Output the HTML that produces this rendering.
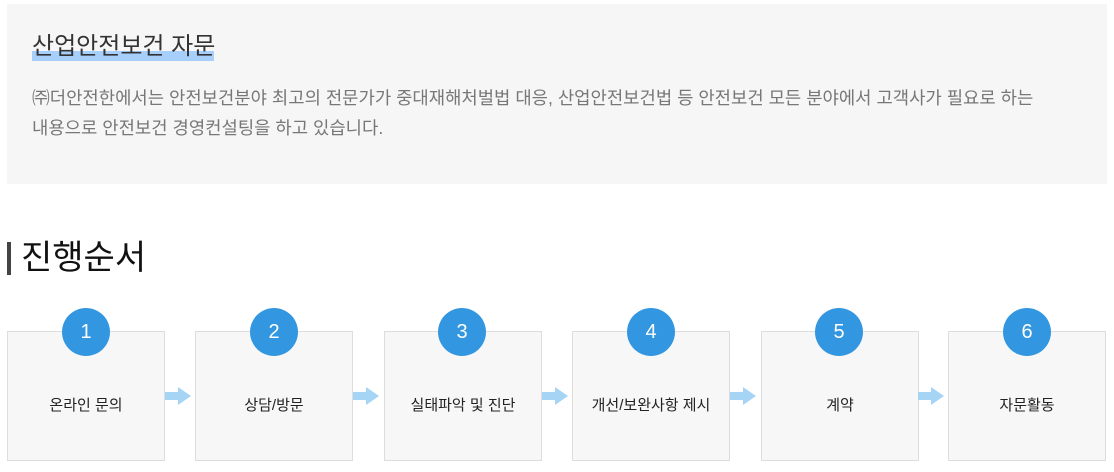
<!DOCTYPE html>
<html><head><meta charset="utf-8"><style>
body{margin:0;width:1114px;height:472px;background:#fff;position:relative;overflow:hidden;font-family:"Liberation Sans","Noto Sans CJK KR",sans-serif;}
.panel{position:absolute;left:7px;top:4px;width:1100px;height:180px;background:#f6f6f6;}
.title{position:absolute;left:32px;top:31px;font-size:24px;color:#333;line-height:32px;white-space:nowrap;}
.hl{position:absolute;left:32px;top:51px;width:182px;height:10px;background:#a6d0fb;}
.p{position:absolute;left:32px;top:83px;font-size:17.75px;color:#777;line-height:30px;white-space:nowrap;}
.bar{position:absolute;left:7px;top:242px;width:4px;height:33px;background:#444;}
.h2{position:absolute;left:21px;top:236px;font-size:34px;color:#111;line-height:44px;}
.box{position:absolute;top:331px;width:156px;height:128px;background:#f7f7f7;border:1px solid #ddd;}
.box span{position:absolute;left:0;right:0;top:62px;text-align:center;font-size:15px;color:#222;}
.c{position:absolute;top:308px;width:48px;height:48px;border-radius:50%;background:#3296e0;color:#fff;font-size:20px;text-align:center;line-height:48px;}
.ar{position:absolute;top:387px;width:26px;height:18px;}
</style></head><body>
<div class="panel"></div>
<div class="hl"></div>
<div class="title">산업안전보건 자문</div>
<div class="p">㈜더안전한에서는 안전보건분야 최고의 전문가가 중대재해처벌법 대응, 산업안전보건법 등 안전보건 모든 분야에서 고객사가 필요로 하는<br>내용으로 안전보건 경영컨설팅을 하고 있습니다.</div>
<div class="bar"></div>
<div class="h2">진행순서</div>

<div class="box" style="left:7px"><span>온라인 문의</span></div>
<div class="box" style="left:195px"><span>상담/방문</span></div>
<div class="box" style="left:384px"><span>실태파악 및 진단</span></div>
<div class="box" style="left:572px"><span>개선/보완사항 제시</span></div>
<div class="box" style="left:761px"><span>계약</span></div>
<div class="box" style="left:948px"><span>자문활동</span></div>

<div class="c" style="left:62px">1</div>
<div class="c" style="left:250px">2</div>
<div class="c" style="left:438px">3</div>
<div class="c" style="left:627px">4</div>
<div class="c" style="left:815px">5</div>
<div class="c" style="left:1003px">6</div>

<svg class="ar" style="left:165px" viewBox="0 0 26 18"><polygon points="0,5 13,5 13,0 26,9 13,18 13,13 0,13" fill="#a5d4f5"/></svg>
<svg class="ar" style="left:353px" viewBox="0 0 26 18"><polygon points="0,5 13,5 13,0 26,9 13,18 13,13 0,13" fill="#a5d4f5"/></svg>
<svg class="ar" style="left:542px" viewBox="0 0 26 18"><polygon points="0,5 13,5 13,0 26,9 13,18 13,13 0,13" fill="#a5d4f5"/></svg>
<svg class="ar" style="left:730px" viewBox="0 0 26 18"><polygon points="0,5 13,5 13,0 26,9 13,18 13,13 0,13" fill="#a5d4f5"/></svg>
<svg class="ar" style="left:918px" viewBox="0 0 26 18"><polygon points="0,5 13,5 13,0 26,9 13,18 13,13 0,13" fill="#a5d4f5"/></svg>
</body></html>
